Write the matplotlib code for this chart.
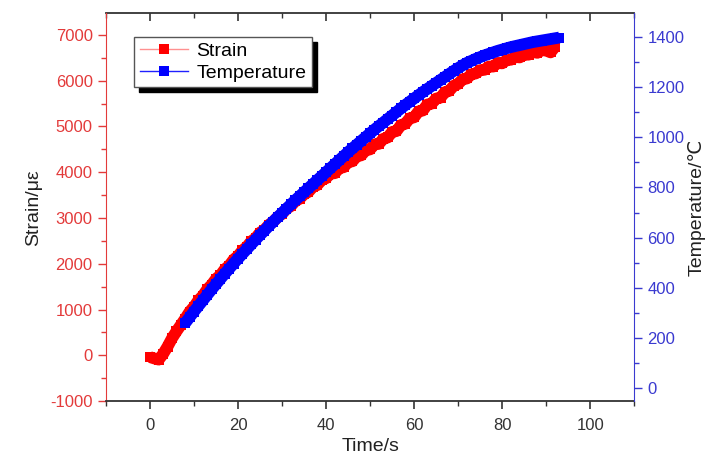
import matplotlib
matplotlib.use("Agg")
import matplotlib.pyplot as plt
import numpy as np
from matplotlib.lines import Line2D
from matplotlib.patches import Rectangle
from matplotlib.ticker import MultipleLocator

plt.rcParams["font.family"] = ["Liberation Sans", "DejaVu Sans"]
plt.rcParams["axes.unicode_minus"] = False

# strain sampled every second from t = 0 s
strain_time = np.arange(0, 93)
strain = [
    -40, -70, -95, 30, 190, 370, 520, 660, 800, 950,
    1060, 1200, 1300, 1440, 1540, 1670, 1750, 1880, 1960, 2090,
    2170, 2290, 2370, 2490, 2560, 2680, 2740, 2850, 2920, 3020,
    3090, 3200, 3260, 3370, 3420, 3520, 3570, 3680, 3720, 3830,
    3870, 3970, 3980, 4090, 4110, 4220, 4240, 4350, 4370, 4480,
    4500, 4610, 4620, 4730, 4760, 4880, 4900, 5030, 5060, 5180,
    5200, 5330, 5350, 5480, 5500, 5610, 5630, 5750, 5780, 5890,
    5930, 6030, 6050, 6140, 6160, 6230, 6240, 6310, 6310, 6390,
    6380, 6450, 6460, 6520, 6510, 6570, 6570, 6630, 6610, 6670,
    6660, 6620, 6740,
]

# temperature sampled every second from t = 8 s
temp_time = np.arange(8, 94)
temperature = [
    259, 282, 305, 327, 349, 371, 393, 414, 435, 456,
    476, 496, 516, 535, 554, 573, 592, 610, 628, 646,
    664, 681, 698, 715, 732, 749, 765, 781, 797, 813,
    829, 845, 861, 877, 893, 909, 925, 941, 956, 971,
    986, 1001, 1016, 1031, 1045, 1059, 1073, 1087, 1101, 1115,
    1129, 1142, 1155, 1168, 1181, 1193, 1205, 1217, 1229, 1241,
    1253, 1265, 1276, 1287, 1297, 1305, 1313, 1320, 1327, 1333,
    1339, 1345, 1350, 1355, 1360, 1364, 1368, 1372, 1376, 1380,
    1383, 1386, 1389, 1392, 1395, 1398,
]

RED_AX = "#e33a3a"
BLUE_AX = "#3a3ad0"
GREY = "#333333"

fig = plt.figure(figsize=(7.11, 4.65), dpi=100)
ax = fig.add_axes([0.149, 0.1376, 0.743, 0.8334])
ax2 = ax.twinx()

# dense samples form a solid band: thick line + square markers
ax.plot(strain_time, strain, "-s", color="#ff0000", lw=8.5, ms=7, mew=0,
        solid_capstyle="butt", solid_joinstyle="round")
ax2.plot(temp_time, temperature, "-s", color="#0000ff", lw=8.5, ms=7, mew=0,
         solid_capstyle="butt", solid_joinstyle="round")

ax.set_xlim(-10, 110)
ax.set_ylim(-1000, 7470)
ax2.set_ylim(-52, 1494)

ax.xaxis.set_major_locator(MultipleLocator(20))
ax.xaxis.set_minor_locator(MultipleLocator(10))
ax.yaxis.set_major_locator(MultipleLocator(1000))
ax.yaxis.set_minor_locator(MultipleLocator(500))
ax2.set_yticks(np.arange(0, 1401, 200))
ax2.yaxis.set_minor_locator(MultipleLocator(100))

ax.tick_params(axis="x", which="major", direction="out", length=6, width=1.2,
               colors=GREY, labelsize=12, pad=6)
ax.tick_params(axis="x", which="minor", direction="out", length=3.5, width=1.0, colors=GREY)
ax.tick_params(axis="y", which="major", direction="out", length=6, width=1.0,
               colors=RED_AX, labelsize=12)
ax.tick_params(axis="y", which="minor", direction="out", length=3.5, width=1.0, colors=RED_AX)
ax2.tick_params(axis="y", which="major", direction="out", length=6, width=1.0,
                colors=BLUE_AX, labelsize=12)
ax2.tick_params(axis="y", which="minor", direction="out", length=3.5, width=1.0, colors=BLUE_AX)

# top spine ticks point inwards, no labels
top = ax.secondary_xaxis("top")
top.xaxis.set_major_locator(MultipleLocator(20))
top.xaxis.set_minor_locator(MultipleLocator(10))
top.tick_params(which="major", direction="in", length=6, width=1.2, colors=GREY, labeltop=False)
top.tick_params(which="minor", direction="in", length=3.5, width=1.0, colors=GREY)
top.spines["top"].set_color(GREY)
top.spines["top"].set_linewidth(1.3)

ax.spines["left"].set_color(RED_AX)
ax.spines["bottom"].set_color(GREY)
ax.spines["bottom"].set_linewidth(1.3)
ax.spines["top"].set_visible(False)
ax.spines["right"].set_visible(False)
ax2.spines["right"].set_color(BLUE_AX)
ax2.spines["left"].set_visible(False)
ax2.spines["top"].set_visible(False)
ax2.spines["bottom"].set_visible(False)

ax.set_xlabel("Time/s", fontsize=14, color="#222222", labelpad=4)
ax.set_ylabel("Strain/με", fontsize=14, color="#222222", labelpad=6)
ax2.set_ylabel("Temperature/℃", fontsize=14, color="#222222", labelpad=2)

handles = [
    Line2D([], [], color="#ff9090", lw=1.0, marker="s", ms=7, mfc="#ff0000", mew=0),
    Line2D([], [], color="#2020ff", lw=1.0, marker="s", ms=7, mfc="#0000ff", mew=0),
]
leg = ax2.legend(handles, ["Strain", "Temperature"], loc="upper left",
                 bbox_to_anchor=(134 / 711, 1 - 36.7 / 465),
                 bbox_transform=fig.transFigure, fontsize=14, frameon=True,
                 fancybox=False, handlelength=2.5, handletextpad=0.4,
                 borderpad=0.3, labelspacing=0.2, borderaxespad=0)
leg.get_frame().set_edgecolor("#555555")
leg.get_frame().set_linewidth(1.0)
leg.get_frame().set_alpha(1)

# heavier drop shadow behind the legend box
fig.canvas.draw()
bb = leg.get_window_extent().transformed(fig.transFigure.inverted())
shadow = Rectangle((bb.x0 + 5 / 711, bb.y0 - 5 / 465), bb.width, bb.height,
                   transform=fig.transFigure, color="black", zorder=4)
ax2.add_artist(shadow)
shadow.set_transform(fig.transFigure)
leg.set_zorder(5)

fig.savefig("out.png", dpi=100)
